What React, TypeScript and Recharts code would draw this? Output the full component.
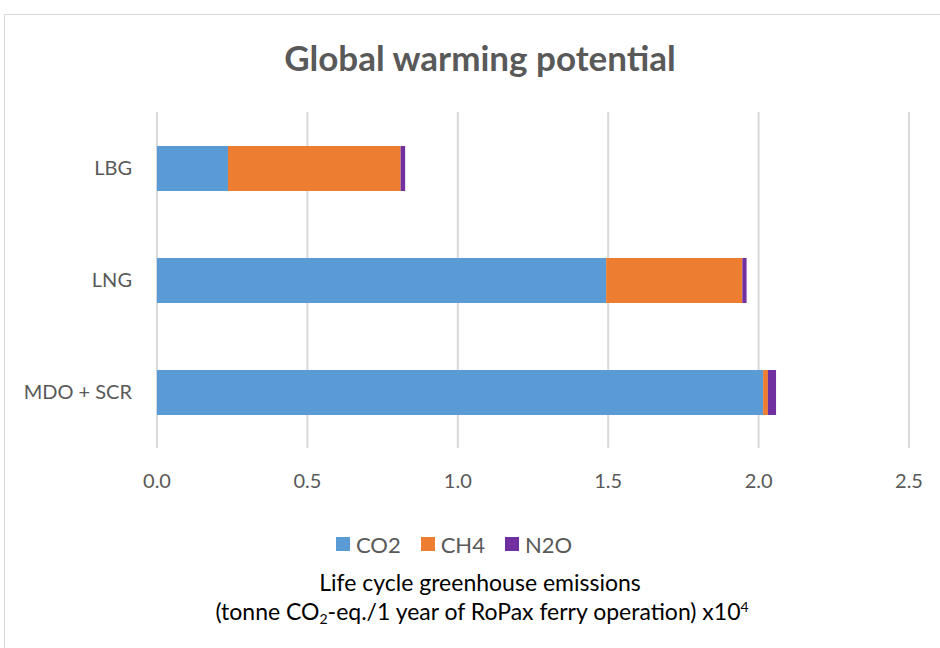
import React from 'react';
import { BarChart, Bar, XAxis, YAxis, CartesianGrid } from 'recharts';

const fuels = ['LBG', 'LNG', 'MDO + SCR'];
const co2 = [0.236, 1.493, 2.015];
const ch4 = [0.574, 0.453, 0.016];
const n2o = [0.015, 0.014, 0.027];
const xTicks = [0, 0.5, 1.0, 1.5, 2.0, 2.5];

const seriesNames = ['CO2', 'CH4', 'N2O'];
const seriesColors = ['#5B9BD5', '#ED7D31', '#7030A0'];

const data = fuels.map((fuel, i) => ({ fuel, CO2: co2[i], CH4: ch4[i], N2O: n2o[i] }));

const FONT = 'Lato, "Open Sans", sans-serif';
const GREY = '#595959';

function centered(cx: number, top: number): React.CSSProperties {
  return { position: 'absolute', left: cx - 400, width: 800, top, textAlign: 'center', whiteSpace: 'nowrap' };
}

export default function App() {
  return (
    <div style={{ position: 'absolute', left: 0, top: 0, width: 940, height: 648, background: '#fff', overflow: 'hidden' }}>
      <div style={{ position: 'absolute', left: 4, top: 14, width: 960, height: 680, border: '1px solid #d9d9d9' }} />
      <div style={{ ...centered(480, 36), fontFamily: FONT, fontWeight: 'bold', fontSize: 35, color: GREY }}>
        Global warming potential
      </div>
      <div style={{ position: 'absolute', left: 0, top: 0 }}>
        <BarChart
          width={940}
          height={648}
          data={data}
          layout="vertical"
          margin={{ top: 112, right: 31, bottom: 170, left: 0 }}
          barSize={45}
        >
          <CartesianGrid horizontal={false} stroke="#d9d9d9" strokeWidth={2} />
          <XAxis
            type="number"
            domain={[0, 2.5]}
            ticks={xTicks}
            tickFormatter={(v: number) => v.toFixed(1)}
            axisLine={false}
            tickLine={false}
            tick={{ fill: GREY, fontSize: 20, fontFamily: FONT }}
            tickMargin={20}
            interval={0}
          />
          <YAxis
            type="category"
            dataKey="fuel"
            width={157}
            axisLine={false}
            tickLine={false}
            tick={{ fill: GREY, fontSize: 20, fontFamily: FONT }}
            tickMargin={19}
          />
          {seriesNames.map((name, i) => (
            <Bar key={name} dataKey={name} stackId="a" fill={seriesColors[i]} isAnimationActive={false} />
          ))}
        </BarChart>
      </div>
      <div
        style={{
          position: 'absolute', left: 154, width: 600, top: 530, height: 28, display: 'flex', justifyContent: 'center',
          alignItems: 'center', gap: 20, fontFamily: FONT, fontSize: 22, color: GREY,
        }}
      >
        {seriesNames.map((name, i) => (
          <div key={name} style={{ display: 'flex', alignItems: 'center', gap: 6 }}>
            <span style={{ display: 'inline-block', width: 14, height: 14, background: seriesColors[i] }} />
            <span>{name}</span>
          </div>
        ))}
      </div>
      <div style={{ ...centered(480, 568), fontFamily: FONT, fontSize: 23, lineHeight: '28px', color: '#000' }}>
        Life cycle greenhouse emissions
      </div>
      <div style={{ ...centered(482, 597), fontFamily: FONT, fontSize: 23, lineHeight: '28px', color: '#000' }}>
        (tonne CO<sub style={{ fontSize: 14, verticalAlign: -4, lineHeight: 0 }}>2</sub>-eq./1 year of RoPax ferry operation) x10
        <sup style={{ fontSize: 14, verticalAlign: 8, lineHeight: 0 }}>4</sup>
      </div>
    </div>
  );
}
